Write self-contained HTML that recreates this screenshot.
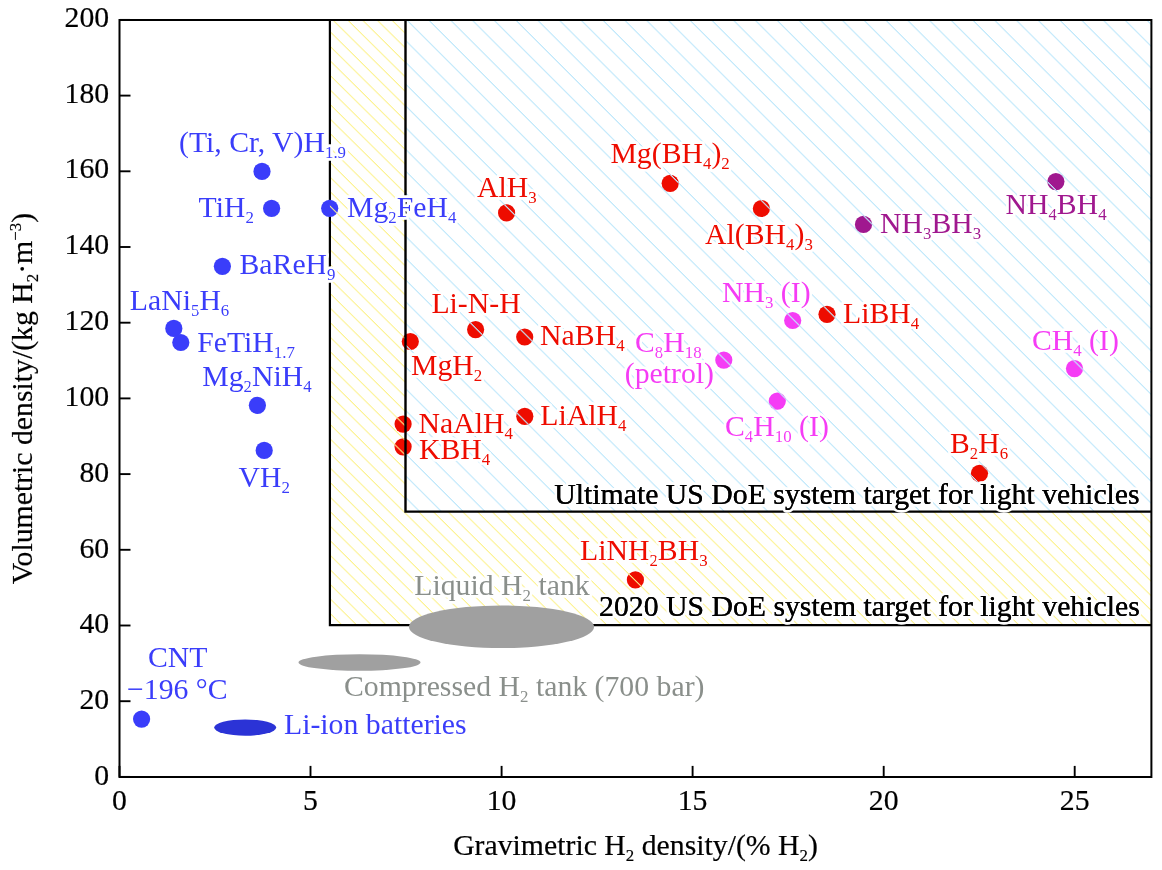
<!DOCTYPE html>
<html><head><meta charset="utf-8"><style>
html,body{margin:0;padding:0;background:#fff;}
svg{display:block;will-change:transform;}
text{font-family:"Liberation Serif",serif;}
text.h{paint-order:stroke;stroke:#fff;stroke-width:5.5px;stroke-linejoin:round;}
text.b{stroke-width:0.2px;stroke-linejoin:round;}
</style></head><body>
<svg width="1162" height="870" viewBox="0 0 1162 870">
<defs>
<pattern id="py" patternUnits="userSpaceOnUse" width="200" height="14.54" patternTransform="matrix(1,0.988,0,1,0,-4.38)">
<rect x="0" y="0" width="200" height="1.45" fill="#fcf28e"/>
</pattern>
<pattern id="pb" patternUnits="userSpaceOnUse" width="200" height="21.76" patternTransform="matrix(1,1,0,1,0,-17.78)">
<rect x="0" y="0" width="200" height="1.56" fill="#c0e8fb"/>
</pattern>
</defs>

<path d="M329.9,19.9 H1151.4 V625.2 H329.9 Z" fill="url(#py)"/>
<path d="M405.5,19.9 H1151.4 V511.6 H405.5 Z" fill="#fff"/>
<path d="M405.5,19.9 H1151.4 V511.6 H405.5 Z" fill="url(#pb)"/>
<circle cx="506.6" cy="212.9" r="8.6" fill="#ee0c00"/>
<circle cx="670.2" cy="183.3" r="8.6" fill="#ee0c00"/>
<circle cx="761.4" cy="208.5" r="8.6" fill="#ee0c00"/>
<circle cx="475.6" cy="329.6" r="8.6" fill="#ee0c00"/>
<circle cx="524.7" cy="337.0" r="8.6" fill="#ee0c00"/>
<circle cx="410.3" cy="341.5" r="8.6" fill="#ee0c00"/>
<circle cx="827.0" cy="314.3" r="8.6" fill="#ee0c00"/>
<circle cx="403.1" cy="424.1" r="8.6" fill="#ee0c00"/>
<circle cx="403.1" cy="446.8" r="8.6" fill="#ee0c00"/>
<circle cx="524.8" cy="416.3" r="8.6" fill="#ee0c00"/>
<circle cx="979.5" cy="473.3" r="8.6" fill="#ee0c00"/>
<circle cx="635.4" cy="579.9" r="8.6" fill="#ee0c00"/>
<circle cx="863.5" cy="224.4" r="8.6" fill="#a0188f"/>
<circle cx="1055.9" cy="181.6" r="8.6" fill="#a0188f"/>
<circle cx="792.7" cy="320.5" r="8.6" fill="#f53cf5"/>
<circle cx="723.8" cy="360.1" r="8.6" fill="#f53cf5"/>
<circle cx="777.3" cy="401.1" r="8.6" fill="#f53cf5"/>
<circle cx="1074.5" cy="368.6" r="8.6" fill="#f53cf5"/>
<clipPath id="dc1"><circle cx="506.6" cy="212.9" r="8.6"/><circle cx="670.2" cy="183.3" r="8.6"/><circle cx="761.4" cy="208.5" r="8.6"/><circle cx="475.6" cy="329.6" r="8.6"/><circle cx="524.7" cy="337.0" r="8.6"/><circle cx="410.3" cy="341.5" r="8.6"/><circle cx="827.0" cy="314.3" r="8.6"/><circle cx="403.1" cy="424.1" r="8.6"/><circle cx="403.1" cy="446.8" r="8.6"/><circle cx="524.8" cy="416.3" r="8.6"/><circle cx="979.5" cy="473.3" r="8.6"/><circle cx="635.4" cy="579.9" r="8.6"/><circle cx="863.5" cy="224.4" r="8.6"/><circle cx="1055.9" cy="181.6" r="8.6"/><circle cx="792.7" cy="320.5" r="8.6"/><circle cx="723.8" cy="360.1" r="8.6"/><circle cx="777.3" cy="401.1" r="8.6"/><circle cx="1074.5" cy="368.6" r="8.6"/></clipPath>
<g clip-path="url(#dc1)"><path d="M329.9,19.9 H1151.4 V625.2 H329.9 Z M405.5,19.9 V511.6 H1151.4 V19.9 Z" fill-rule="evenodd" fill="url(#py)"/><path d="M405.5,19.9 H1151.4 V511.6 H405.5 Z" fill="url(#pb)"/></g>
<path d="M329.9,19.9 V625.2 H1151.4" fill="none" stroke="#000" stroke-width="2.2"/>
<path d="M405.5,19.9 V511.6 H1151.4" fill="none" stroke="#000" stroke-width="2.4"/>
<path d="M119.5,19.9 H1151.4 V776.9 H119.5 Z" fill="none" stroke="#000" stroke-width="2.0"/>
<circle cx="262.0" cy="171.4" r="8.6" fill="#3a3dfa"/>
<circle cx="271.6" cy="208.3" r="8.6" fill="#3a3dfa"/>
<circle cx="329.7" cy="208.3" r="8.6" fill="#3a3dfa"/>
<circle cx="222.4" cy="266.3" r="8.6" fill="#3a3dfa"/>
<circle cx="173.8" cy="328.4" r="8.6" fill="#3a3dfa"/>
<circle cx="180.8" cy="342.5" r="8.6" fill="#3a3dfa"/>
<circle cx="257.4" cy="405.3" r="8.6" fill="#3a3dfa"/>
<circle cx="264.2" cy="450.4" r="8.6" fill="#3a3dfa"/>
<circle cx="141.6" cy="719.1" r="8.6" fill="#3a3dfa"/>
<clipPath id="dc2"><circle cx="262.0" cy="171.4" r="8.6"/><circle cx="271.6" cy="208.3" r="8.6"/><circle cx="329.7" cy="208.3" r="8.6"/><circle cx="222.4" cy="266.3" r="8.6"/><circle cx="173.8" cy="328.4" r="8.6"/><circle cx="180.8" cy="342.5" r="8.6"/><circle cx="257.4" cy="405.3" r="8.6"/><circle cx="264.2" cy="450.4" r="8.6"/><circle cx="141.6" cy="719.1" r="8.6"/></clipPath>
<g clip-path="url(#dc2)"><path d="M329.9,19.9 H1151.4 V625.2 H329.9 Z M405.5,19.9 V511.6 H1151.4 V19.9 Z" fill-rule="evenodd" fill="url(#py)"/><path d="M405.5,19.9 H1151.4 V511.6 H405.5 Z" fill="url(#pb)"/></g>
<line x1="119.5" y1="776.9" x2="119.5" y2="765.9" stroke="#000" stroke-width="1.9"/>
<text transform="translate(119.5,810) scale(0.992,1)" font-size="30" class="b" stroke="#000" text-anchor="middle">0</text>
<line x1="310.5" y1="776.9" x2="310.5" y2="765.9" stroke="#000" stroke-width="1.9"/>
<text transform="translate(310.5,810) scale(0.992,1)" font-size="30" class="b" stroke="#000" text-anchor="middle">5</text>
<line x1="501.6" y1="776.9" x2="501.6" y2="765.9" stroke="#000" stroke-width="1.9"/>
<text transform="translate(501.6,810) scale(0.992,1)" font-size="30" class="b" stroke="#000" text-anchor="middle">10</text>
<line x1="692.6" y1="776.9" x2="692.6" y2="765.9" stroke="#000" stroke-width="1.9"/>
<text transform="translate(692.6,810) scale(0.992,1)" font-size="30" class="b" stroke="#000" text-anchor="middle">15</text>
<line x1="883.7" y1="776.9" x2="883.7" y2="765.9" stroke="#000" stroke-width="1.9"/>
<text transform="translate(883.7,810) scale(0.992,1)" font-size="30" class="b" stroke="#000" text-anchor="middle">20</text>
<line x1="1074.7" y1="776.9" x2="1074.7" y2="765.9" stroke="#000" stroke-width="1.9"/>
<text transform="translate(1074.7,810) scale(0.992,1)" font-size="30" class="b" stroke="#000" text-anchor="middle">25</text>
<line x1="119.5" y1="776.90" x2="130.5" y2="776.90" stroke="#000" stroke-width="1.9"/>
<text transform="translate(109.2,785.0) scale(0.992,1)" font-size="30" class="b" stroke="#000" text-anchor="end">0</text>
<line x1="119.5" y1="701.20" x2="130.5" y2="701.20" stroke="#000" stroke-width="1.9"/>
<text transform="translate(109.2,709.2) scale(0.992,1)" font-size="30" class="b" stroke="#000" text-anchor="end">20</text>
<line x1="119.5" y1="625.50" x2="130.5" y2="625.50" stroke="#000" stroke-width="1.9"/>
<text transform="translate(109.2,633.4) scale(0.992,1)" font-size="30" class="b" stroke="#000" text-anchor="end">40</text>
<line x1="119.5" y1="549.80" x2="130.5" y2="549.80" stroke="#000" stroke-width="1.9"/>
<text transform="translate(109.2,557.5) scale(0.992,1)" font-size="30" class="b" stroke="#000" text-anchor="end">60</text>
<line x1="119.5" y1="474.10" x2="130.5" y2="474.10" stroke="#000" stroke-width="1.9"/>
<text transform="translate(109.2,481.7) scale(0.992,1)" font-size="30" class="b" stroke="#000" text-anchor="end">80</text>
<line x1="119.5" y1="398.40" x2="130.5" y2="398.40" stroke="#000" stroke-width="1.9"/>
<text transform="translate(109.2,405.9) scale(0.992,1)" font-size="30" class="b" stroke="#000" text-anchor="end">100</text>
<line x1="119.5" y1="322.70" x2="130.5" y2="322.70" stroke="#000" stroke-width="1.9"/>
<text transform="translate(109.2,330.1) scale(0.992,1)" font-size="30" class="b" stroke="#000" text-anchor="end">120</text>
<line x1="119.5" y1="247.00" x2="130.5" y2="247.00" stroke="#000" stroke-width="1.9"/>
<text transform="translate(109.2,254.3) scale(0.992,1)" font-size="30" class="b" stroke="#000" text-anchor="end">140</text>
<line x1="119.5" y1="171.30" x2="130.5" y2="171.30" stroke="#000" stroke-width="1.9"/>
<text transform="translate(109.2,178.4) scale(0.992,1)" font-size="30" class="b" stroke="#000" text-anchor="end">160</text>
<line x1="119.5" y1="95.60" x2="130.5" y2="95.60" stroke="#000" stroke-width="1.9"/>
<text transform="translate(109.2,102.6) scale(0.992,1)" font-size="30" class="b" stroke="#000" text-anchor="end">180</text>
<line x1="119.5" y1="19.90" x2="130.5" y2="19.90" stroke="#000" stroke-width="1.9"/>
<text transform="translate(109.2,26.8) scale(0.992,1)" font-size="30" class="b" stroke="#000" text-anchor="end">200</text>
<ellipse cx="501.5" cy="626.8" rx="92.6" ry="21.3" fill="#a0a0a0"/>
<ellipse cx="359.5" cy="662.5" rx="61" ry="8.3" fill="#a0a0a0"/>
<ellipse cx="245.2" cy="727.6" rx="31" ry="8.1" fill="#2b33d6"/>
<text class="h" transform="translate(179,152) scale(0.992,1)" fill="#3a3dfa" text-anchor="start"><tspan font-size="30">(Ti, Cr, V)H</tspan><tspan font-size="17" dy="6">1.9</tspan></text>
<text class="h" transform="translate(198.5,217) scale(0.992,1)" fill="#3a3dfa" text-anchor="start"><tspan font-size="30">TiH</tspan><tspan font-size="17" dy="6">2</tspan></text>
<text class="h" transform="translate(347,217) scale(0.992,1)" fill="#3a3dfa" text-anchor="start"><tspan font-size="30">Mg</tspan><tspan font-size="17" dy="6">2</tspan><tspan font-size="30" dy="-6">FeH</tspan><tspan font-size="17" dy="6">4</tspan></text>
<text class="h" transform="translate(239.5,274) scale(0.992,1)" fill="#3a3dfa" text-anchor="start"><tspan font-size="30">BaReH</tspan><tspan font-size="17" dy="6">9</tspan></text>
<text class="h" transform="translate(129.8,310) scale(0.992,1)" fill="#3a3dfa" text-anchor="start"><tspan font-size="30">LaNi</tspan><tspan font-size="17" dy="6">5</tspan><tspan font-size="30" dy="-6">H</tspan><tspan font-size="17" dy="6">6</tspan></text>
<text class="h" transform="translate(197.2,351.6) scale(0.992,1)" fill="#3a3dfa" text-anchor="start"><tspan font-size="30">FeTiH</tspan><tspan font-size="17" dy="6">1.7</tspan></text>
<text class="h" transform="translate(202.2,385.6) scale(0.992,1)" fill="#3a3dfa" text-anchor="start"><tspan font-size="30">Mg</tspan><tspan font-size="17" dy="6">2</tspan><tspan font-size="30" dy="-6">NiH</tspan><tspan font-size="17" dy="6">4</tspan></text>
<text class="h" transform="translate(238.5,487) scale(0.992,1)" fill="#3a3dfa" text-anchor="start"><tspan font-size="30">VH</tspan><tspan font-size="17" dy="6">2</tspan></text>
<text class="h" transform="translate(148,667) scale(0.992,1)" fill="#3a3dfa" text-anchor="start"><tspan font-size="30">CNT</tspan></text>
<text class="h" transform="translate(127,699) scale(0.992,1)" fill="#3a3dfa" text-anchor="start"><tspan font-size="30">−196 °C</tspan></text>
<text class="h" transform="translate(284,734) scale(0.992,1)" fill="#3a3dfa" text-anchor="start"><tspan font-size="30">Li-ion batteries</tspan></text>
<text class="h" transform="translate(344,695.6) scale(0.992,1)" fill="#8a8f8b" text-anchor="start"><tspan font-size="30">Compressed H</tspan><tspan font-size="17" dy="6">2</tspan><tspan font-size="30" dy="-6"> tank (700 bar)</tspan></text>
<text class="h" transform="translate(414.3,595) scale(0.992,1)" fill="#8a8f8b" text-anchor="start"><tspan font-size="30">Liquid H</tspan><tspan font-size="17" dy="6">2</tspan><tspan font-size="30" dy="-6"> tank</tspan></text>
<text class="h" transform="translate(599,616) scale(0.992,1)" fill="#000" text-anchor="start"><tspan font-size="30">2020 US DoE system target for light vehicles</tspan></text><text class="b" transform="translate(599,616) scale(0.992,1)" fill="#000" stroke="#000" text-anchor="start"><tspan font-size="30">2020 US DoE system target for light vehicles</tspan></text>
<text class="h" transform="translate(554.3,504) scale(0.992,1)" fill="#000" text-anchor="start"><tspan font-size="30">Ultimate US DoE system target for light vehicles</tspan></text><text class="b" transform="translate(554.3,504) scale(0.992,1)" fill="#000" stroke="#000" text-anchor="start"><tspan font-size="30">Ultimate US DoE system target for light vehicles</tspan></text>
<text class="h" transform="translate(580,560) scale(0.992,1)" fill="#ee0c00" text-anchor="start"><tspan font-size="30">LiNH</tspan><tspan font-size="17" dy="6">2</tspan><tspan font-size="30" dy="-6">BH</tspan><tspan font-size="17" dy="6">3</tspan></text>
<text class="h" transform="translate(477,197) scale(0.992,1)" fill="#ee0c00" text-anchor="start"><tspan font-size="30">AlH</tspan><tspan font-size="17" dy="6">3</tspan></text>
<text class="h" transform="translate(610.4,163) scale(0.992,1)" fill="#ee0c00" text-anchor="start"><tspan font-size="30">Mg(BH</tspan><tspan font-size="17" dy="6">4</tspan><tspan font-size="30" dy="-6">)</tspan><tspan font-size="17" dy="6">2</tspan></text>
<text class="h" transform="translate(705.1,243.6) scale(0.992,1)" fill="#ee0c00" text-anchor="start"><tspan font-size="30">Al(BH</tspan><tspan font-size="17" dy="6">4</tspan><tspan font-size="30" dy="-6">)</tspan><tspan font-size="17" dy="6">3</tspan></text>
<text class="h" transform="translate(880,233) scale(0.992,1)" fill="#a0188f" text-anchor="start"><tspan font-size="30">NH</tspan><tspan font-size="17" dy="6">3</tspan><tspan font-size="30" dy="-6">BH</tspan><tspan font-size="17" dy="6">3</tspan></text>
<text class="h" transform="translate(1005.4,214) scale(0.992,1)" fill="#a0188f" text-anchor="start"><tspan font-size="30">NH</tspan><tspan font-size="17" dy="6">4</tspan><tspan font-size="30" dy="-6">BH</tspan><tspan font-size="17" dy="6">4</tspan></text>
<text class="h" transform="translate(431.4,313) scale(0.992,1)" fill="#ee0c00" text-anchor="start"><tspan font-size="30">Li-N-H</tspan></text>
<text class="h" transform="translate(540.1,344.6) scale(0.992,1)" fill="#ee0c00" text-anchor="start"><tspan font-size="30">NaBH</tspan><tspan font-size="17" dy="6">4</tspan></text>
<text class="h" transform="translate(411,375) scale(0.992,1)" fill="#ee0c00" text-anchor="start"><tspan font-size="30">MgH</tspan><tspan font-size="17" dy="6">2</tspan></text>
<text class="h" transform="translate(722,302) scale(0.992,1)" fill="#f53cf5" text-anchor="start"><tspan font-size="30">NH</tspan><tspan font-size="17" dy="6">3</tspan><tspan font-size="30" dy="-6"> (I)</tspan></text>
<text class="h" transform="translate(843,323) scale(0.992,1)" fill="#ee0c00" text-anchor="start"><tspan font-size="30">LiBH</tspan><tspan font-size="17" dy="6">4</tspan></text>
<text class="h" transform="translate(635,352) scale(0.992,1)" fill="#f53cf5" text-anchor="start"><tspan font-size="30">C</tspan><tspan font-size="17" dy="6">8</tspan><tspan font-size="30" dy="-6">H</tspan><tspan font-size="17" dy="6">18</tspan></text>
<text class="h" transform="translate(624.8,383) scale(0.992,1)" fill="#f53cf5" text-anchor="start"><tspan font-size="30">(petrol)</tspan></text>
<text class="h" transform="translate(1031.9,350) scale(0.992,1)" fill="#f53cf5" text-anchor="start"><tspan font-size="30">CH</tspan><tspan font-size="17" dy="6">4</tspan><tspan font-size="30" dy="-6"> (I)</tspan></text>
<text class="h" transform="translate(418.6,433) scale(0.992,1)" fill="#ee0c00" text-anchor="start"><tspan font-size="30">NaAlH</tspan><tspan font-size="17" dy="6">4</tspan></text>
<text class="h" transform="translate(419,459) scale(0.992,1)" fill="#ee0c00" text-anchor="start"><tspan font-size="30">KBH</tspan><tspan font-size="17" dy="6">4</tspan></text>
<text class="h" transform="translate(540.3,424.6) scale(0.992,1)" fill="#ee0c00" text-anchor="start"><tspan font-size="30">LiAlH</tspan><tspan font-size="17" dy="6">4</tspan></text>
<text class="h" transform="translate(725,435.6) scale(0.992,1)" fill="#f53cf5" text-anchor="start"><tspan font-size="30">C</tspan><tspan font-size="17" dy="6">4</tspan><tspan font-size="30" dy="-6">H</tspan><tspan font-size="17" dy="6">10</tspan><tspan font-size="30" dy="-6"> (I)</tspan></text>
<text class="h" transform="translate(950,453) scale(0.992,1)" fill="#ee0c00" text-anchor="start"><tspan font-size="30">B</tspan><tspan font-size="17" dy="6">2</tspan><tspan font-size="30" dy="-6">H</tspan><tspan font-size="17" dy="6">6</tspan></text>
<text class="b" transform="translate(635.5,855) scale(0.992,1)" fill="#000" stroke="#000" text-anchor="middle"><tspan font-size="30">Gravimetric H</tspan><tspan font-size="17" dy="6">2</tspan><tspan font-size="30" dy="-6"> density/(% H</tspan><tspan font-size="17" dy="6">2</tspan><tspan font-size="30" dy="-6">)</tspan></text>
<g transform="translate(32.2,398.5) rotate(-90)"><text class="b" transform="translate(0,0) scale(0.992,1)" fill="#000" stroke="#000" text-anchor="middle"><tspan font-size="30">Volumetric density/(kg H</tspan><tspan font-size="17" dy="6">2</tspan><tspan font-size="30" dy="-6">·m</tspan><tspan font-size="17" dy="-11">−3</tspan><tspan font-size="30" dy="11">)</tspan></text></g>
</svg></body></html>
